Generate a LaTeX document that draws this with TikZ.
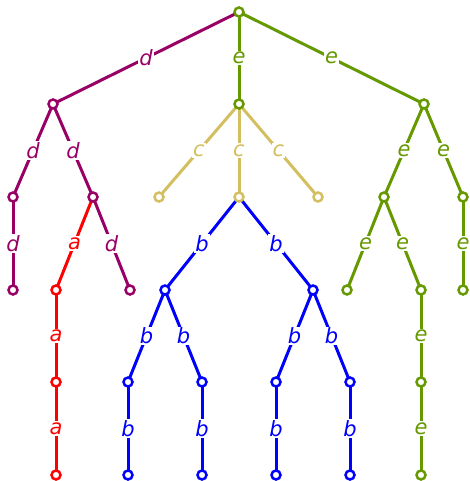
\documentclass[tikz,border=0pt]{standalone}
\usepackage{fontspec}
\setmainfont{DejaVu Sans}
\definecolor{cpur}{HTML}{990066}
\definecolor{cgrn}{HTML}{669900}
\definecolor{cyel}{HTML}{D4BF60}
\definecolor{cblu}{HTML}{0000FF}
\definecolor{cred}{HTML}{FF0000}
\tikzset{
  vtx/.style={circle, draw=#1, fill=white, line width=2.5pt, minimum size=9pt, inner sep=0pt},
  edg/.style={draw=#1, line width=3pt},
  lbl/.style={fill=white, text=#1, inner sep=1pt, font=\fontsize{21}{21}\selectfont\itshape},
}
\newcommand{\tedge}[4]{\draw[edg=#3] (#1) -- node[lbl=#3]{#4} (#2);}
\begin{document}
\begin{tikzpicture}[x=1pt,y=-1pt]
\useasboundingbox (0,0) rectangle (470,481);
% coordinates
\coordinate (r) at (239,12);
\coordinate (A) at (53,104);
\coordinate (B) at (239,104);
\coordinate (C) at (424,104);
\coordinate (A1) at (13,197);
\coordinate (A2) at (93,197);
\coordinate (B1) at (159,197);
\coordinate (B2) at (239,197);
\coordinate (B3) at (318,197);
\coordinate (C1) at (384,197);
\coordinate (C2) at (463,197);
\coordinate (A11) at (13,290);
\coordinate (A21) at (56,290);
\coordinate (A22) at (130,290);
\coordinate (B21) at (165,290);
\coordinate (B22) at (313,290);
\coordinate (C11) at (347,290);
\coordinate (C12) at (421,290);
\coordinate (C21) at (463,290);
\coordinate (A211) at (56,382);
\coordinate (B211) at (128,382);
\coordinate (B212) at (202,382);
\coordinate (B221) at (276,382);
\coordinate (B222) at (350,382);
\coordinate (C121) at (421,382);
\coordinate (A2111) at (56,475);
\coordinate (B2111) at (128,475);
\coordinate (B2121) at (202,475);
\coordinate (B2211) at (276,475);
\coordinate (B2221) at (350,475);
\coordinate (C1211) at (421,475);
% edges
\tedge{r}{A}{cpur}{d}
\tedge{r}{B}{cgrn}{e}
\tedge{r}{C}{cgrn}{e}
\tedge{A}{A1}{cpur}{d}
\tedge{A}{A2}{cpur}{d}
\tedge{B}{B1}{cyel}{c}
\tedge{B}{B2}{cyel}{c}
\tedge{B}{B3}{cyel}{c}
\tedge{C}{C1}{cgrn}{e}
\tedge{C}{C2}{cgrn}{e}
\tedge{A1}{A11}{cpur}{d}
\tedge{A2}{A21}{cred}{a}
\tedge{A2}{A22}{cpur}{d}
\tedge{B2}{B21}{cblu}{b}
\tedge{B2}{B22}{cblu}{b}
\tedge{C1}{C11}{cgrn}{e}
\tedge{C1}{C12}{cgrn}{e}
\tedge{C2}{C21}{cgrn}{e}
\tedge{A21}{A211}{cred}{a}
\tedge{B21}{B211}{cblu}{b}
\tedge{B21}{B212}{cblu}{b}
\tedge{B22}{B221}{cblu}{b}
\tedge{B22}{B222}{cblu}{b}
\tedge{C12}{C121}{cgrn}{e}
\tedge{A211}{A2111}{cred}{a}
\tedge{B211}{B2111}{cblu}{b}
\tedge{B212}{B2121}{cblu}{b}
\tedge{B221}{B2211}{cblu}{b}
\tedge{B222}{B2221}{cblu}{b}
\tedge{C121}{C1211}{cgrn}{e}
% vertices
\foreach \n/\c in {r/cgrn,A/cpur,B/cgrn,C/cgrn,A1/cpur,A2/cpur,B1/cyel,B2/cyel,B3/cyel,C1/cgrn,C2/cgrn,
  A11/cpur,A21/cred,A22/cpur,B21/cblu,B22/cblu,C11/cgrn,C12/cgrn,C21/cgrn,
  A211/cred,B211/cblu,B212/cblu,B221/cblu,B222/cblu,C121/cgrn,
  A2111/cred,B2111/cblu,B2121/cblu,B2211/cblu,B2221/cblu,C1211/cgrn}
  \node[vtx=\c] (v\n) at (\n) {};
\end{tikzpicture}
\end{document}
